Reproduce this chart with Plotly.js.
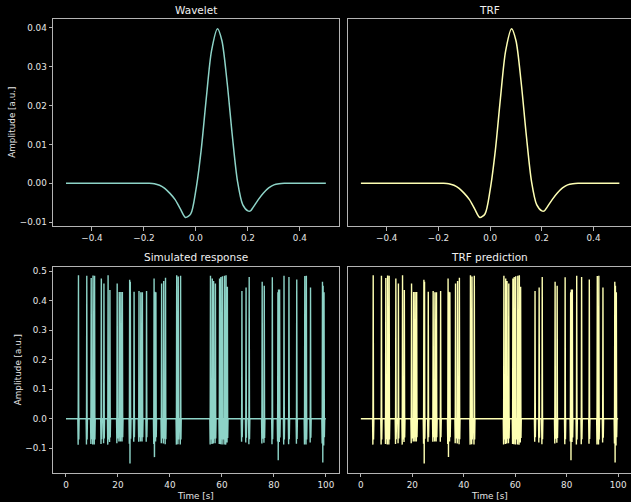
<!DOCTYPE html>
<html>
<head>
<meta charset="utf-8">
<script src="https://cdn.plot.ly/plotly-3.0.1.min.js"></script>
<style>html,body{margin:0;padding:0;background:#000;}</style>
</head>
<body>
<div id="chart" style="width:631px;height:502px;"></div>
<script>
// Wavelet (true kernel), sampled in seconds
const waveletTime = [-0.50, -0.20, -0.18, -0.16, -0.14, -0.12, -0.10, -0.08, -0.06, -0.04, -0.02, 0.00, 0.02, 0.04, 0.06, 0.083, 0.10, 0.12, 0.14, 0.16, 0.18, 0.20, 0.21, 0.22, 0.24, 0.26, 0.28, 0.30, 0.32, 0.34, 0.50];
const waveletAmp  = [0, 0, 0, -0.0001, -0.0005, -0.0013, -0.0026, -0.0042, -0.0066, -0.0088, -0.0079, -0.0017, 0.0084, 0.0220, 0.0341, 0.0398, 0.0367, 0.0260, 0.0123, 0.0005, -0.0055, -0.0071, -0.0071, -0.0062, -0.0042, -0.0025, -0.0012, -0.0004, -0.0001, 0, 0];

// Estimated TRF
const trfTime = waveletTime;
const trfAmp  = [0, 0, 0, -0.0001, -0.0005, -0.0013, -0.0026, -0.0042, -0.0066, -0.0088, -0.0079, -0.0017, 0.0084, 0.0220, 0.0341, 0.0398, 0.0367, 0.0260, 0.0123, 0.0005, -0.0055, -0.0071, -0.0071, -0.0062, -0.0042, -0.0025, -0.0012, -0.0004, -0.0001, 0, 0];

// Stimulus events (s) and the peak amplitude each one produces
const eventTimes = [4.8, 8.0, 9.7, 10.4, 11.0, 13.6, 14.6, 16.2, 16.9, 19.7, 20.5, 21.1, 21.7, 24.5, 24.75, 26.2, 28.1, 28.8, 29.4, 31.0, 33.9, 34.18, 34.6, 36.8, 37.6, 38.3, 42.6, 43.2, 44.1, 55.6, 56.3, 56.8, 57.5, 59.1, 59.6, 60.2, 61.0, 61.6, 62.1, 67.7, 69.3, 70.5, 75.5, 76.3, 79.4, 81.55, 81.8, 82.2, 83.9, 85.8, 88.8, 91.9, 92.5, 94.1, 98.7, 98.95, 99.3];
const eventPeaks = [0.486, 0.484, 0.476, 0.485, 0.484, 0.475, 0.458, 0.486, 0.436, 0.458, 0.429, 0.429, 0.429, 0.470, 0.464, 0.430, 0.432, 0.428, 0.428, 0.432, 0.475, 0.430, 0.428, 0.458, 0.466, 0.477, 0.486, 0.481, 0.484, 0.484, 0.475, 0.466, 0.458, 0.475, 0.480, 0.482, 0.484, 0.486, 0.447, 0.432, 0.444, 0.480, 0.464, 0.450, 0.479, 0.428, 0.437, 0.437, 0.484, 0.480, 0.471, 0.483, 0.484, 0.444, 0.464, 0.450, 0.428];

// Sampled response to a single event, relative to its peak
const pulseLag   = [-0.25, -0.125, 0, 0.125, 0.25];
const pulseShape = [0, -0.18, 1, -0.145, 0];

// Recording span (s)
const recStart = 0;
const recEnd = 100;

// Tick labels
const kernelTicks = [-0.4, -0.2, 0, 0.2, 0.4];
const kernelTickText = ['\u22120.4', '\u22120.2', '0.0', '0.2', '0.4'];
const kernelYTicks = [0.04, 0.03, 0.02, 0.01, 0, -0.01];
const kernelYTickText = ['0.04', '0.03', '0.02', '0.01', '0.00', '\u22120.01'];
const timeTicks = [0, 20, 40, 60, 80, 100];
const timeTickText = ['0', '20', '40', '60', '80', '100'];
const respYTicks = [0.5, 0.4, 0.3, 0.2, 0.1, 0, -0.1];
const respYTickText = ['0.5', '0.4', '0.3', '0.2', '0.1', '0.0', '\u22120.1'];

// Sum the per-event pulses on the union of their sample times
function buildResponse(times, peaks, lag, shape, t0, t1) {
  const grid = [t0, t1];
  times.forEach(t => lag.forEach(l => grid.push(Math.round((t + l) * 10000) / 10000)));
  const xs = Array.from(new Set(grid)).sort((a, b) => a - b);
  const ys = xs.map(g => {
    let s = 0;
    times.forEach((t, i) => {
      const d = g - t;
      if (d <= lag[0] || d >= lag[lag.length - 1]) return;
      for (let k = 0; k < lag.length - 1; k++) {
        if (d >= lag[k] && d <= lag[k + 1]) {
          const f = (d - lag[k]) / (lag[k + 1] - lag[k]);
          s += peaks[i] * (shape[k] + f * (shape[k + 1] - shape[k]));
          break;
        }
      }
    });
    return s;
  });
  return { x: xs, y: ys };
}

const simulated = buildResponse(eventTimes, eventPeaks, pulseLag, pulseShape, recStart, recEnd);
const predicted = buildResponse(eventTimes, eventPeaks, pulseLag, pulseShape, recStart, recEnd);

const cyan = '#8dd3c7';
const yellow = '#feffb3';
const font = 'DejaVu Sans, Liberation Sans, sans-serif';
const spine = '#b4b4b4';

const traces = [
  { x: waveletTime, y: waveletAmp, xaxis: 'x', yaxis: 'y', mode: 'lines',
    line: { color: cyan, width: 1.5, shape: 'spline', smoothing: 0.8 }, hoverinfo: 'skip' },
  { x: trfTime, y: trfAmp, xaxis: 'x2', yaxis: 'y2', mode: 'lines',
    line: { color: yellow, width: 1.5, shape: 'spline', smoothing: 0.8 }, hoverinfo: 'skip' },
  { x: simulated.x, y: simulated.y, xaxis: 'x3', yaxis: 'y3', mode: 'lines',
    line: { color: cyan, width: 1.4 }, hoverinfo: 'skip' },
  { x: predicted.x, y: predicted.y, xaxis: 'x4', yaxis: 'y4', mode: 'lines',
    line: { color: yellow, width: 1.4 }, hoverinfo: 'skip' }
];

function axis(extra) {
  return Object.assign({
    showline: true, linecolor: spine, linewidth: 1, mirror: true,
    ticks: 'outside', ticklen: 3.5, tickwidth: 1, tickcolor: spine,
    showgrid: false, zeroline: false, fixedrange: true,
    tickfont: { family: font, size: 8.8, color: '#e6e6e6' }
  }, extra);
}

const colL = [0.084, 0.537];
const colR = [0.5515, 1.0];
const rowT = [0.5498, 0.9622];
const rowB = [0.0578, 0.4687];
const kernelYRange = [-0.0110, 0.0423];
const respYRange = [-0.1834, 0.5145];

const layout = {
  width: 631, height: 502,
  paper_bgcolor: '#000', plot_bgcolor: '#000',
  margin: { l: 0, r: 0, t: 0, b: 0 },
  showlegend: false,
  font: { family: font, color: '#e6e6e6' },
  xaxis:  axis({ domain: colL, range: [-0.55, 0.55], tickvals: kernelTicks, ticktext: kernelTickText, anchor: 'y' }),
  yaxis:  axis({ domain: rowT, range: kernelYRange, tickvals: kernelYTicks, ticktext: kernelYTickText, anchor: 'x' }),
  xaxis2: axis({ domain: colR, range: [-0.55, 0.545], tickvals: kernelTicks, ticktext: kernelTickText, anchor: 'y2' }),
  yaxis2: axis({ domain: rowT, range: kernelYRange, showticklabels: false, ticks: '', anchor: 'x2' }),
  xaxis3: axis({ domain: colL, range: [-5, 105], tickvals: timeTicks, ticktext: timeTickText, anchor: 'y3' }),
  yaxis3: axis({ domain: rowB, range: respYRange, tickvals: respYTicks, ticktext: respYTickText, anchor: 'x3' }),
  xaxis4: axis({ domain: colR, range: [-5, 105], tickvals: timeTicks, ticktext: timeTickText, anchor: 'y4' }),
  yaxis4: axis({ domain: rowB, range: respYRange, showticklabels: false, ticks: '', anchor: 'x4' }),
  annotations: [
    { text: 'Wavelet', x: 0.3106, y: 0.9795 },
    { text: 'TRF', x: 0.7765, y: 0.9795 },
    { text: 'Simulated response', x: 0.3106, y: 0.488 },
    { text: 'TRF prediction', x: 0.7765, y: 0.488 }
  ].map(a => Object.assign({ xref: 'paper', yref: 'paper', xanchor: 'center', yanchor: 'middle',
      showarrow: false, font: { family: font, size: 10.5, color: '#f0f0f0' } }, a))
  .concat([
    { text: 'Amplitude [a.u.]', x: 0.0195, y: 0.756, textangle: -90 },
    { text: 'Amplitude [a.u.]', x: 0.029, y: 0.263, textangle: -90 },
    { text: 'Time [s]', x: 0.3106, y: 0.0125 },
    { text: 'Time [s]', x: 0.7756, y: 0.0125 }
  ].map(a => Object.assign({ xref: 'paper', yref: 'paper', xanchor: 'center', yanchor: 'middle',
      showarrow: false, font: { family: font, size: 8.8, color: '#e6e6e6' } }, a)))
};

Plotly.newPlot('chart', traces, layout, { staticPlot: true, displayModeBar: false });
</script>
</body>
</html>
